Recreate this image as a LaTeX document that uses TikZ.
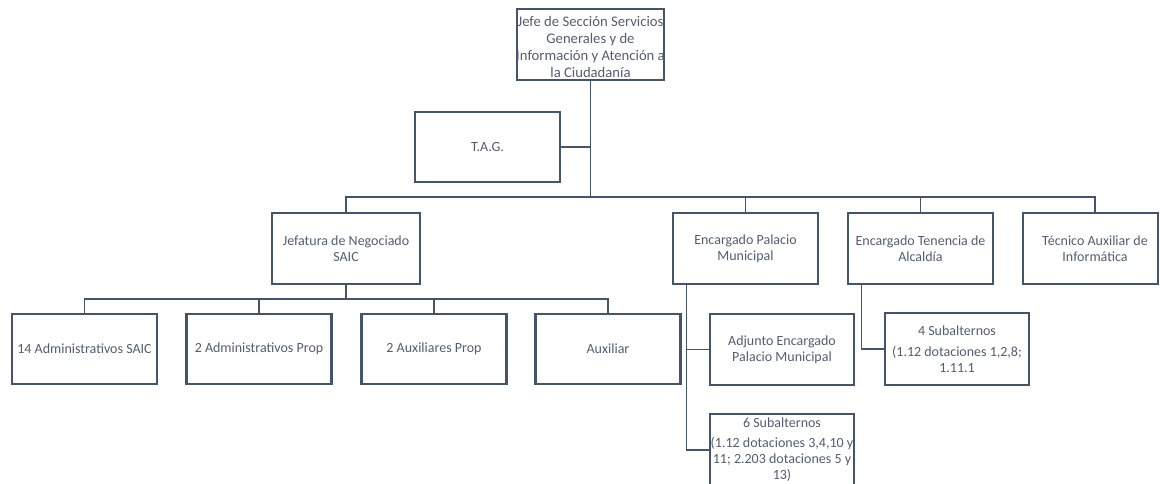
\documentclass[tikz,border=0pt]{standalone}
\usepackage{fontspec}
\setmainfont{Carlito}
\definecolor{bord}{HTML}{44546A}
\definecolor{txtc}{RGB}{84,94,112}
\begin{document}
\begin{tikzpicture}[x=0.75pt,y=-0.75pt,
  box/.style 2 args={draw=bord, line width=2pt, fill=white,
    minimum width=#1*0.75pt, minimum height=#2*0.75pt, inner sep=0pt},
  lbl/.style={text=txtc, align=center, inner sep=0pt,
    font=\fontsize{10.5}{12}\selectfont},
  conn/.style={draw=bord, line width=1.2pt}]
\useasboundingbox (0,0) rectangle (1160,484);
\coordinate (busy) at (0,197);
\coordinate (jby) at (0,299);
% boxes
\node[box={147}{71}, label={[lbl, font=\fontsize{11}{12.6}\selectfont, yshift=-2pt]center:{Jefe de Sección Servicios\\Generales y de\\Información y Atención a\\la Ciudadanía}}] (top) at (590.5,44.5) {};
\node[box={145}{70}, label={[lbl]center:{T.A.G.}}] (tag) at (487.5,147) {};
\node[box={148}{71}, label={[lbl]center:{Jefatura de Negociado\\SAIC}}] (jef) at (346,248.5) {};
\node[box={145}{71}, label={[lbl]center:{Encargado Palacio\\Municipal}}] (pal) at (745.5,248.5) {};
\node[box={145}{71}, label={[lbl]center:{Encargado Tenencia de\\Alcaldía}}] (ten) at (920.5,248.5) {};
\node[box={135}{71}, label={[lbl, xshift=3.375pt]center:{Técnico Auxiliar de\\Informática}}] (tec) at (1090.5,248.5) {};
\node[box={145}{70}, label={[lbl]center:{14 Administrativos SAIC}}] (a14) at (84.5,349) {};
\node[box={145}{70}, label={[lbl]center:{2 Administrativos Prop}}] (a2) at (259,349) {};
\node[box={145}{70}, label={[lbl]center:{2 Auxiliares Prop}}] (ax2) at (434,349) {};
\node[box={145}{70}, label={[lbl]center:{Auxiliar}}] (aux) at (608,349) {};
\node[box={144}{71}, label={[lbl]center:{Adjunto Encargado\\Palacio Municipal}}] (adj) at (782,349.5) {};
\node[box={144}{72}, label={[lbl]center:{4 Subalternos\\[3.5pt](1.12 dotaciones 1,2,8;\\1.11.1}}] (sub4) at (957,349) {};
\node[box={144}{72}, label={[lbl]center:{6 Subalternos\\[3pt](1.12 dotaciones 3,4,10 y\\11; 2.203 dotaciones 5 y\\13)}}] (sub6) at (782,450) {};
% connectors
\coordinate (bus) at (top.south |- busy);
\draw[conn] (top.south) -- (bus);
\draw[conn] (tag.east) -- (tag.east -| top.south);
\draw[conn] (bus) -| (jef.north);
\draw[conn] (bus) -| (pal.north);
\draw[conn] (bus) -| (ten.north);
\draw[conn] (bus) -| ([xshift=3.375pt]tec.north);
\coordinate (jb) at (jef.south |- jby);
\draw[conn] (jef.south) -- (jb);
\draw[conn] (jb) -| (a14.north);
\draw[conn] (jb) -| (a2.north);
\draw[conn] (jb) -| (ax2.north);
\draw[conn] (jb) -| (aux.north);
\coordinate (pv) at ([xshift=11.25pt]pal.south west);
\draw[conn] (pv) |- (adj.west);
\draw[conn] (pv) |- (sub6.west);
\coordinate (tv) at ([xshift=11.25pt]ten.south west);
\draw[conn] (tv) |- (sub4.west);
\end{tikzpicture}
\end{document}
